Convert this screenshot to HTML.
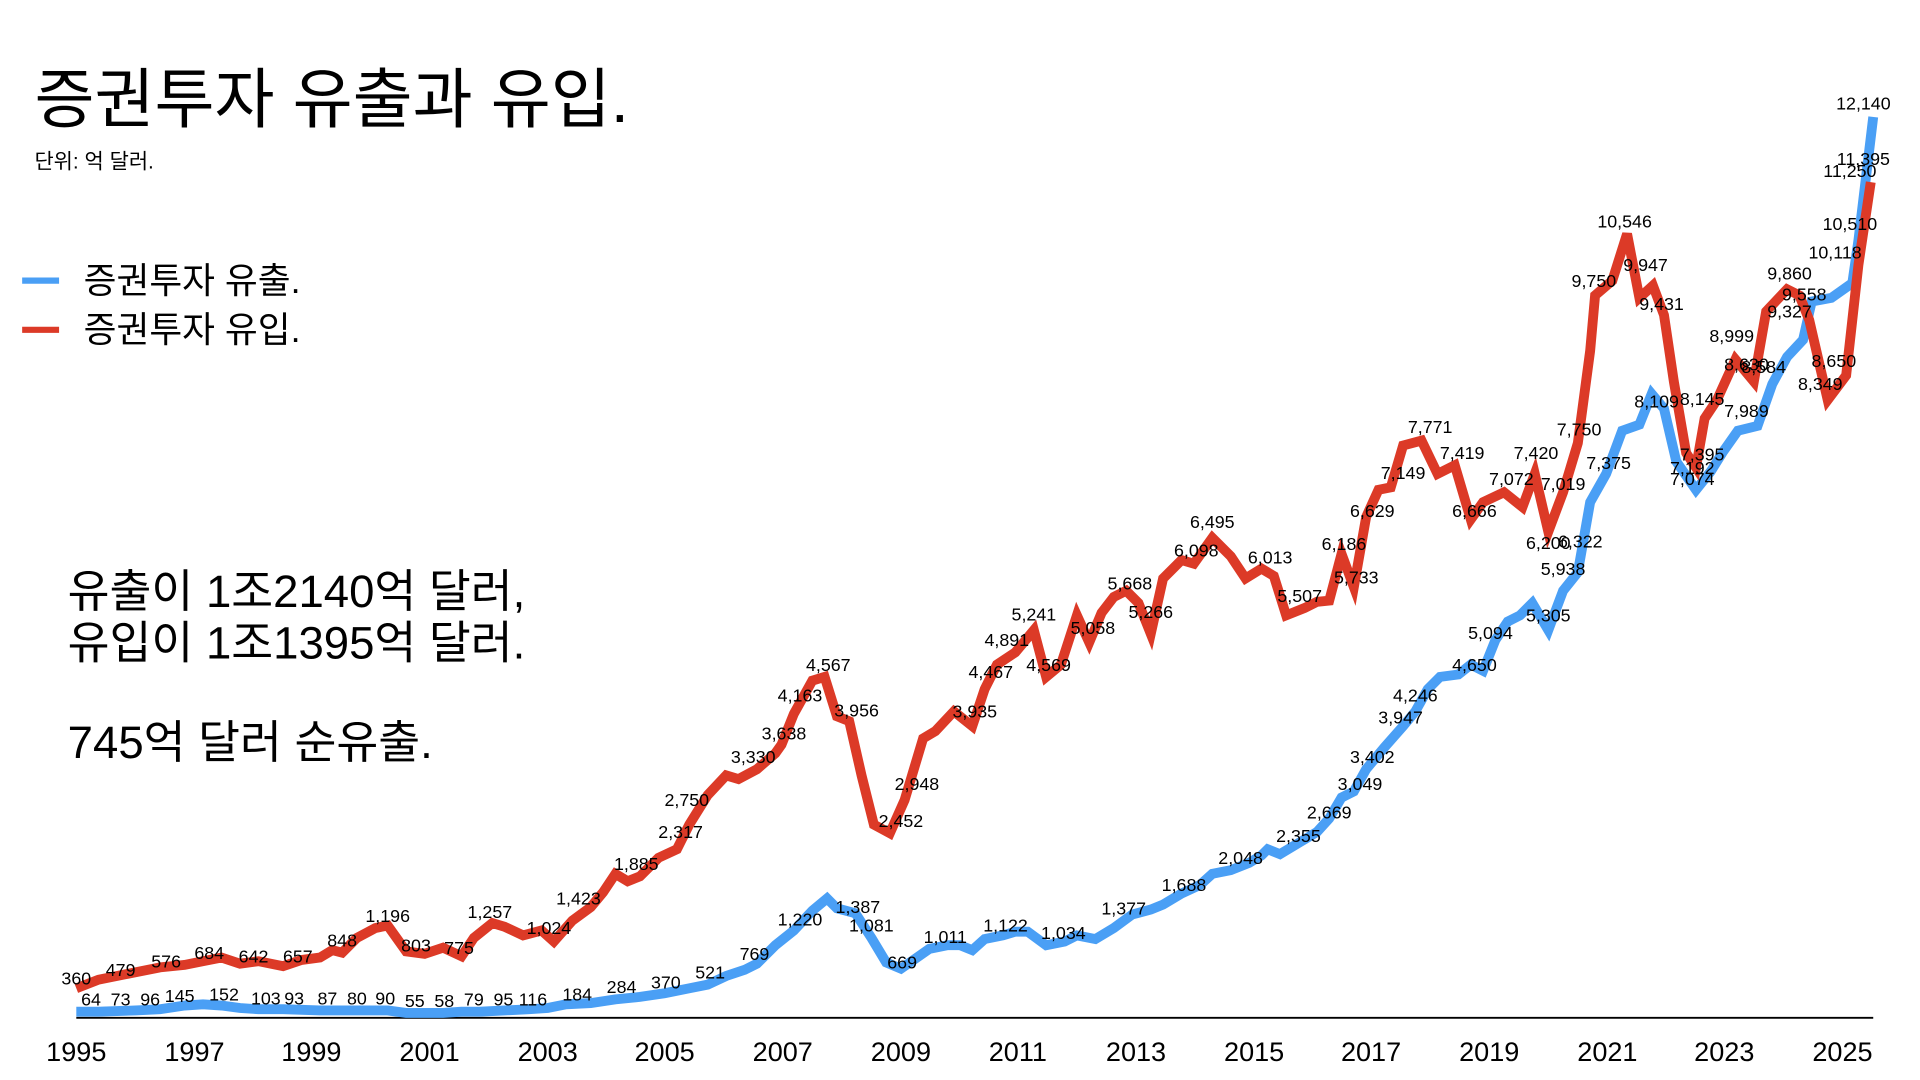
<!DOCTYPE html>
<html><head><meta charset="utf-8"><style>
html,body{margin:0;padding:0;background:#fff;}
svg{display:block;}
text{font-family:"Liberation Sans","Noto Sans CJK KR",sans-serif;fill:#000;}
.l{font-size:14.5px;text-anchor:middle;}
.x{font-size:22px;text-anchor:middle;}
</style></head><body>
<svg width="1920" height="1080" viewBox="0 0 1560 877.5" xmlns="http://www.w3.org/2000/svg">
<rect width="1560" height="877.5" fill="#fff"/>
<text x="28" y="99" style="font-size:53px">증권투자 유출과 유입.</text>
<text x="28" y="137" style="font-size:17px">단위: 억 달러.</text>
<line x1="18" y1="228" x2="48" y2="228" stroke="#4a9ff5" stroke-width="5"/>
<text x="68" y="238" style="font-size:29px">증권투자 유출.</text>
<line x1="18" y1="268" x2="48" y2="268" stroke="#dc3a27" stroke-width="5"/>
<text x="68" y="278" style="font-size:29px">증권투자 유입.</text>
<text x="55" y="493" style="font-size:37px">유출이 1조2140억 달러,</text>
<text x="55" y="535" style="font-size:37px">유입이 1조1395억 달러.</text>
<text x="55" y="616" style="font-size:37px">745억 달러 순유출.</text>
<line x1="62" y1="827" x2="1522" y2="827" stroke="#000" stroke-width="1.5"/>
<g class="x">
<text x="62" y="862">1995</text><text x="158" y="862">1997</text><text x="253" y="862">1999</text><text x="349" y="862">2001</text><text x="445" y="862">2003</text><text x="540" y="862">2005</text><text x="636" y="862">2007</text><text x="732" y="862">2009</text><text x="827" y="862">2011</text><text x="923" y="862">2013</text><text x="1019" y="862">2015</text><text x="1114" y="862">2017</text><text x="1210" y="862">2019</text><text x="1306" y="862">2021</text><text x="1401" y="862">2023</text><text x="1497" y="862">2025</text>
</g>
<polyline fill="none" stroke="#4a9ff5" stroke-width="8" stroke-linejoin="miter" points="62,822 80,822 110,821 130,820 150,817 165,816 180,817 195,819 210,820 230,820 260,821 290,821 315,821 330,823 345,823 360,823 375,822 390,822 410,821 430,820 445,819 460,816 480,815 500,812 520,810 540,807 560,803 575,800 590,793 605,788 615,783 630,768 645,756 660,740 672,730 680,738 695,742 708,762 720,782 732,787 745,778 755,771 770,768 780,768 790,772 800,763 815,760 825,757 835,757 850,768 865,765 875,760 890,763 905,754 920,743 935,739 945,735 960,726 975,719 985,710 1000,707 1015,701 1025,695 1030,690 1040,694 1055,685 1070,676 1080,665 1090,648 1100,643 1110,625 1125,607 1140,590 1150,578 1160,560 1170,550 1185,548 1195,540 1205,545 1215,520 1225,505 1235,500 1245,490 1258,512 1270,480 1282,465 1292,408 1305,385 1318,350 1332,345 1342,320 1352,332 1362,375 1378,398 1390,383 1400,367 1412,350 1428,346 1440,312 1452,290 1465,276 1472,245 1488,242 1505,230 1510,195 1522,95"/>
<polyline fill="none" stroke="#dc3a27" stroke-width="8" stroke-linejoin="miter" points="62,803 80,796 110,790 130,786 150,784 165,781 180,778 195,783 210,781 230,785 245,780 260,778 270,772 278,774 290,762 305,754 315,752 330,773 345,775 360,770 375,777 385,762 400,750 410,753 425,760 440,756 450,765 465,748 480,737 490,725 500,710 510,716 520,712 535,697 550,690 560,670 575,646 590,630 600,633 615,625 630,612 635,605 645,580 660,553 670,550 680,582 690,586 700,630 710,670 723,677 735,650 750,600 760,594 775,578 790,590 800,560 810,540 825,530 835,518 840,512 850,550 862,540 875,500 885,522 895,498 905,485 915,480 925,490 935,515 945,470 960,455 970,458 985,437 1000,452 1012,470 1025,462 1035,468 1045,500 1060,494 1070,489 1080,488 1090,450 1100,477 1110,420 1120,398 1130,396 1140,362 1155,358 1168,385 1182,378 1195,422 1205,408 1222,400 1237,412 1247,385 1258,432 1270,400 1282,360 1292,285 1296,240 1310,228 1322,190 1332,242 1343,232 1352,256 1360,310 1370,368 1378,380 1385,340 1395,325 1410,292 1425,310 1435,253 1452,235 1462,240 1470,260 1485,325 1500,305 1510,215 1520,148"/>
<g class="l">
<text x="62" y="800">360</text><text x="98" y="793">479</text><text x="135" y="786">576</text><text x="170" y="779">684</text><text x="206" y="782">642</text><text x="242" y="782">657</text><text x="278" y="769">848</text><text x="315" y="749">1,196</text><text x="338" y="773">803</text><text x="373" y="775">775</text><text x="398" y="746">1,257</text><text x="446" y="759">1,024</text><text x="470" y="735">1,423</text><text x="517" y="707">1,885</text><text x="553" y="681">2,317</text><text x="558" y="655">2,750</text><text x="612" y="620">3,330</text><text x="637" y="601">3,638</text><text x="650" y="570">4,163</text><text x="673" y="545">4,567</text><text x="696" y="582">3,956</text><text x="732" y="672">2,452</text><text x="745" y="642">2,948</text><text x="792" y="583">3,935</text><text x="805" y="551">4,467</text><text x="818" y="525">4,891</text><text x="840" y="504">5,241</text><text x="852" y="545">4,569</text><text x="888" y="515">5,058</text><text x="918" y="479">5,668</text><text x="935" y="502">5,266</text><text x="972" y="452">6,098</text><text x="985" y="429">6,495</text><text x="1032" y="458">6,013</text><text x="1056" y="489">5,507</text><text x="1092" y="447">6,186</text><text x="1102" y="474">5,733</text><text x="1115" y="420">6,629</text><text x="1140" y="389">7,149</text><text x="1162" y="352">7,771</text><text x="1188" y="373">7,419</text><text x="1198" y="420">6,666</text><text x="1228" y="394">7,072</text><text x="1248" y="373">7,420</text><text x="1258" y="446">6,200</text><text x="1270" y="398">7,019</text><text x="1283" y="354">7,750</text><text x="1295" y="233">9,750</text><text x="1320" y="185">10,546</text><text x="1337" y="220">9,947</text><text x="1350" y="252">9,431</text><text x="1383" y="329">8,145</text><text x="1383" y="374">7,395</text><text x="1375" y="385">7,192</text><text x="1375" y="394">7,074</text><text x="1407" y="278">8,999</text><text x="1419" y="301">8,630</text><text x="1433" y="303">8,584</text><text x="1419" y="339">7,989</text><text x="1454" y="227">9,860</text><text x="1466" y="244">9,558</text><text x="1454" y="258">9,327</text><text x="1490" y="298">8,650</text><text x="1479" y="317">8,349</text><text x="1491" y="210">10,118</text><text x="1503" y="187">10,510</text><text x="1503" y="144">11,250</text><text x="1514" y="134">11,395</text><text x="1514" y="89">12,140</text><text x="1346" y="331">8,109</text>
<text x="74" y="817">64</text><text x="98" y="817">73</text><text x="122" y="817">96</text><text x="146" y="814">145</text><text x="182" y="813">152</text><text x="216" y="816">103</text><text x="239" y="816">93</text><text x="266" y="816">87</text><text x="290" y="816">80</text><text x="313" y="816">90</text><text x="337" y="818">55</text><text x="361" y="818">58</text><text x="385" y="817">79</text><text x="409" y="817">95</text><text x="433" y="817">116</text><text x="469" y="813">184</text><text x="505" y="807">284</text><text x="541" y="803">370</text><text x="577" y="795">521</text><text x="613" y="780">769</text><text x="650" y="752">1,220</text><text x="697" y="742">1,387</text><text x="708" y="757">1,081</text><text x="733" y="787">669</text><text x="768" y="766">1,011</text><text x="817" y="757">1,122</text><text x="864" y="763">1,034</text><text x="913" y="743">1,377</text><text x="962" y="724">1,688</text><text x="1008" y="702">2,048</text><text x="1055" y="684">2,355</text><text x="1080" y="665">2,669</text><text x="1105" y="642">3,049</text><text x="1115" y="620">3,402</text><text x="1138" y="588">3,947</text><text x="1150" y="570">4,246</text><text x="1198" y="545">4,650</text><text x="1211" y="519">5,094</text><text x="1258" y="505">5,305</text><text x="1270" y="467">5,938</text><text x="1284" y="445">6,322</text><text x="1307" y="381">7,375</text>
</g>
</svg>
</body></html>
